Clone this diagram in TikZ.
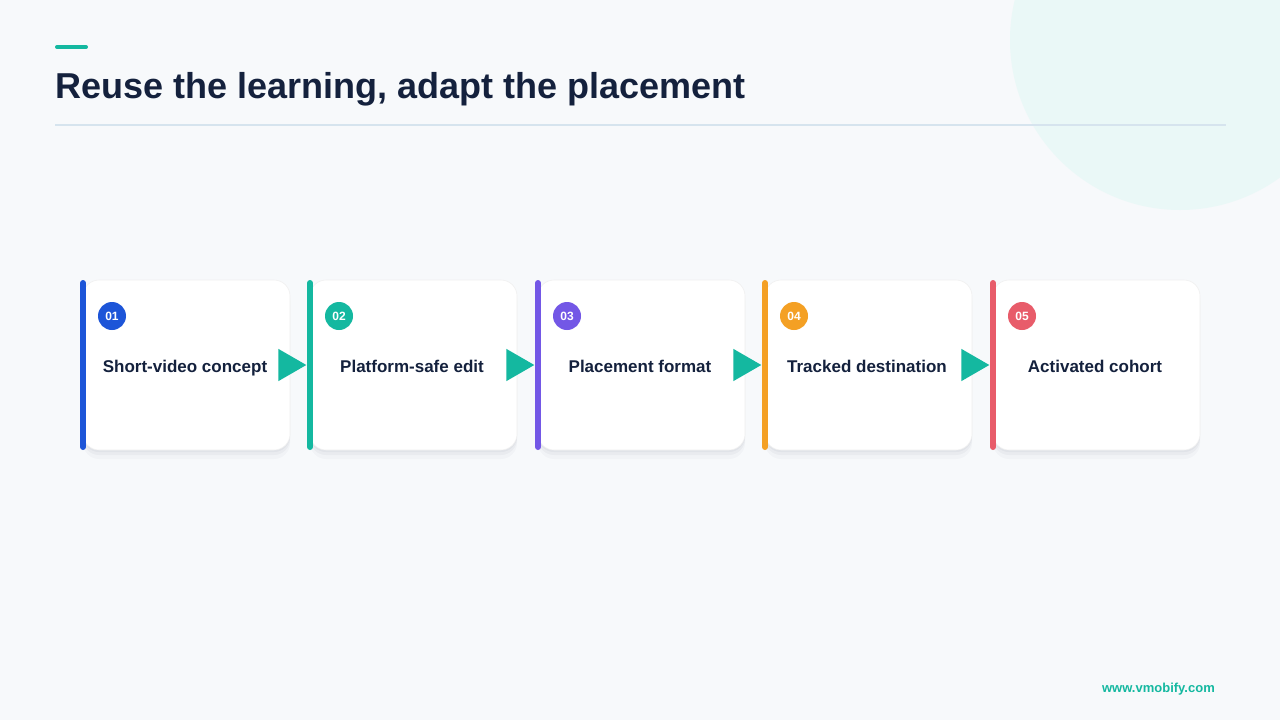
\documentclass[tikz,border=0pt]{standalone}
\usepackage{fontspec}
\setmainfont{Liberation Sans}
\usetikzlibrary{shadows,shapes.geometric}

\definecolor{pagebg}{HTML}{F7F9FB}
\definecolor{bubble}{HTML}{EAF8F7}
\definecolor{navy}{HTML}{14213D}
\definecolor{accent}{HTML}{14B8A0}
\definecolor{rule}{HTML}{D6E4EE}
\definecolor{stepA}{HTML}{1D55D8}
\definecolor{stepB}{HTML}{14B8A0}
\definecolor{stepC}{HTML}{7357E6}
\definecolor{stepD}{HTML}{F4A024}
\definecolor{stepE}{HTML}{E85C6A}

\tikzset{
	card/.style={rectangle, rounded corners=16pt, fill=white, draw=black!6, line width=0.6pt,
		minimum width=207pt, minimum height=170pt, inner sep=0pt,
		general shadow={shadow yshift=-9pt, opacity=0.025, fill=navy},
		general shadow={shadow yshift=-5pt, opacity=0.035, fill=navy},
		general shadow={shadow yshift=-2pt, opacity=0.04, fill=navy}},
	bar/.style={line width=6pt, line cap=round},
	badge/.style={circle, minimum size=28pt, inner sep=0pt, text=white,
		font=\fontsize{12}{14}\selectfont\bfseries},
	label/.style={anchor=base, text=navy, font=\fontsize{17}{20}\selectfont\bfseries},
	flow/.style={isosceles triangle, isosceles triangle apex angle=60, fill=accent,
		minimum height=28pt, minimum width=30pt, inner sep=0pt, anchor=apex}
}

\begin{document}
\begin{tikzpicture}[x=1pt, y=-1pt]
\useasboundingbox (0,0) rectangle (1280,720);
\fill[pagebg] (0,0) rectangle (1280,720);
\begin{scope}
\clip (0,0) rectangle (1280,720);
\fill[bubble] (1180,40) circle (170);
\end{scope}

% heading
\draw[accent, line width=4pt, line cap=round] (57,47) -- (86,47);
\node (title) [anchor=base west, inner sep=0pt, text=navy, font=\fontsize{36}{42}\selectfont\bfseries] at (55,98) {Reuse the learning, adapt the placement};
\draw[rule, line width=1.2pt] (55,125) -- (1226,125);

% cards
\node (card1) at (186.5,365) [card] {};
\node (card2) at (413.5,365) [card] {};
\node (card3) at (641.5,365) [card] {};
\node (card4) at (868.5,365) [card] {};
\node (card5) at (1096.5,365) [card] {};

\draw[bar, stepA] (83,283) -- (83,447);
\draw[bar, stepB] (310,283) -- (310,447);
\draw[bar, stepC] (538,283) -- (538,447);
\draw[bar, stepD] (765,283) -- (765,447);
\draw[bar, stepE] (993,283) -- (993,447);

\node (num1) at (112,316) [badge, fill=stepA] {01};
\node (num2) at (339,316) [badge, fill=stepB] {02};
\node (num3) at (567,316) [badge, fill=stepC] {03};
\node (num4) at (794,316) [badge, fill=stepD] {04};
\node (num5) at (1022,316) [badge, fill=stepE] {05};

\node (text1) at (185,372) [label] {Short-video concept};
\node (text2) at (412,372) [label] {Platform-safe edit};
\node (text3) at (640,372) [label] {Placement format};
\node (text4) at (867,372) [label] {Tracked destination};
\node (text5) at (1095,372) [label] {Activated cohort};

% arrows
\node (arr1) at (card2.west) [flow, xshift=-3pt] {};
\node (arr2) at (card3.west) [flow, xshift=-3pt] {};
\node (arr3) at (card4.west) [flow, xshift=-3pt] {};
\node (arr4) at (card5.west) [flow, xshift=-3pt] {};

% footer
\node (site) [anchor=base east, inner sep=0pt, text=accent, font=\fontsize{13}{15}\selectfont\bfseries] at (1215,692) {www.vmobify.com};
\end{tikzpicture}
\end{document}
